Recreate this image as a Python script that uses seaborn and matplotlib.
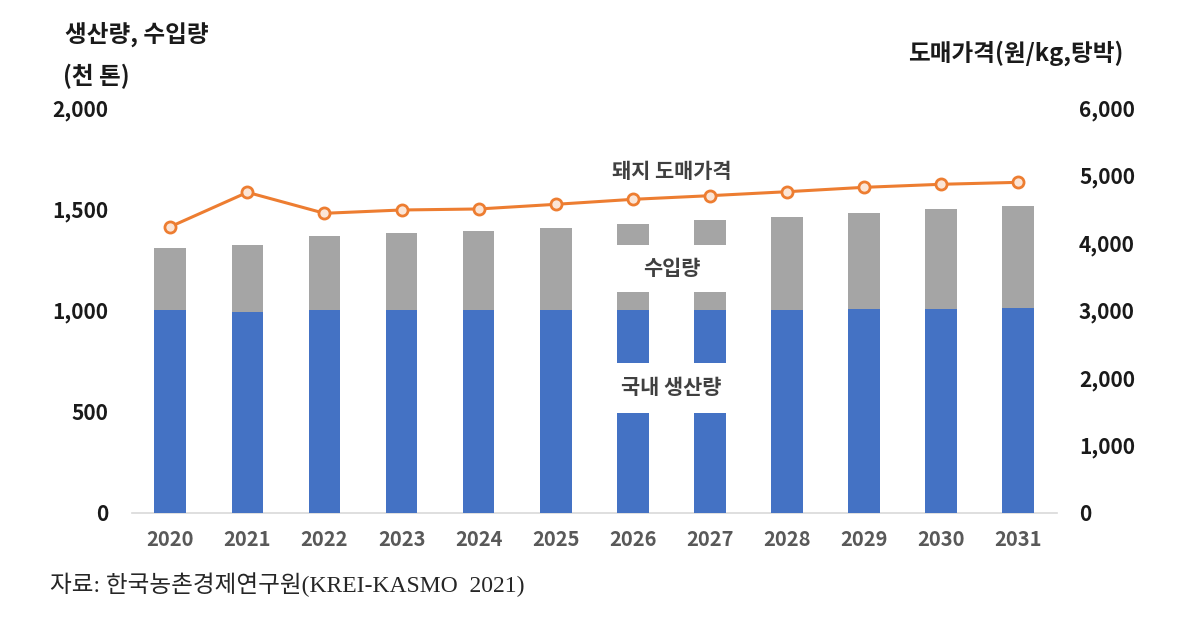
import numpy as np
import matplotlib
matplotlib.use('Agg')
import matplotlib.pyplot as plt
from matplotlib.patches import Rectangle
import seaborn as sns

# data
years = ['2020', '2021', '2022', '2023', '2024', '2025',
         '2026', '2027', '2028', '2029', '2030', '2031']
production = [1000, 993, 1000, 1000, 1000, 1001, 1002, 1004, 1003, 1005, 1008, 1010]
imports = [306, 331, 369, 383, 393, 404, 424, 442, 459, 474, 492, 507]
price = [4240, 4750, 4439, 4488, 4503, 4572, 4646, 4700, 4759, 4824, 4869, 4898]

left_ticks = [0, 500, 1000, 1500, 2000]
right_ticks = [0, 1000, 2000, 3000, 4000, 5000, 6000]

BLUE = '#4472C4'
GRAY = '#A5A5A5'
ORANGE = '#ED7D31'

sns.set_style('white')
plt.rcParams['font.family'] = ['Noto Sans CJK KR', 'DejaVu Sans']

totals = [p + i for p, i in zip(production, imports)]
pos = np.arange(len(years))

fig = plt.figure(figsize=(12, 6.24), dpi=100)
ax = fig.add_axes([0.1098, 0.1784, 0.7708, 0.6485])
ax2 = ax.twinx()

# stacked bars: total (gray) behind, production (blue) in front
sns.barplot(x=years, y=totals, color=GRAY, width=0.41, saturation=1,
            linewidth=0, ax=ax, zorder=2)
sns.barplot(x=years, y=production, color=BLUE, width=0.41, saturation=1,
            linewidth=0, ax=ax, zorder=3)

# white label backgrounds over 2026-2027 bars
ax.add_patch(Rectangle((5.6, 1090), 1.8, 233, facecolor='white', edgecolor='none', zorder=4))
ax.add_patch(Rectangle((5.6, 493), 1.8, 246, facecolor='white', edgecolor='none', zorder=4))
ax.text(6.5, 1205, '수입량', ha='center', va='center', fontsize=15,
        fontweight='bold', color='#404040', zorder=5)
ax.text(6.5, 620, '국내 생산량', ha='center', va='center', fontsize=15,
        fontweight='bold', color='#404040', zorder=5)

sns.lineplot(x=pos, y=price, color=ORANGE, linewidth=2.2, marker='o',
             markersize=8, markerfacecolor='#FBE5D6', markeredgecolor=ORANGE,
             markeredgewidth=2, ax=ax2)
ax2.text(6.5, 5060, '돼지 도매가격', ha='center', va='center', fontsize=15,
         fontweight='bold', color='#404040')

ax.set_xlim(-0.5, 11.5)
ax.set_ylim(0, 2000)
ax2.set_ylim(0, 6000)
ax.set_yticks(left_ticks)
ax.set_yticklabels([f'{v:,}' for v in left_ticks])
ax2.set_yticks(right_ticks)
ax2.set_yticklabels([f'{v:,}' for v in right_ticks])
ax.set_xlabel('')
ax.set_ylabel('')
ax2.set_ylabel('')

for a in (ax, ax2):
    for s in a.spines.values():
        s.set_visible(False)
    a.grid(False)
ax.spines['bottom'].set_visible(True)
ax.spines['bottom'].set_color('#D9D9D9')
ax.spines['bottom'].set_linewidth(1.2)

ax.tick_params(axis='x', length=0, pad=12, labelsize=14.5, labelcolor='#595959')
ax.tick_params(axis='y', length=0, pad=17, labelsize=15, labelcolor='#1a1a1a')
ax2.tick_params(axis='y', length=0, pad=16, labelsize=15, labelcolor='#1a1a1a')
for lab in ax.get_xticklabels() + ax.get_yticklabels() + ax2.get_yticklabels():
    lab.set_fontweight('bold')

# axis titles
fig.text(65 / 1200, 1 - 35 / 624, '생산량, 수입량', fontsize=17, fontweight='bold',
         color='#1a1a1a', va='center', ha='left')
fig.text(63 / 1200, 1 - 76 / 624, '(천 톤)', fontsize=17, fontweight='bold',
         color='#1a1a1a', va='center', ha='left')
fig.text(908 / 1200, 1 - 53 / 624, '도매가격(원/kg,탕박)', fontsize=17, fontweight='bold',
         color='#1a1a1a', va='center', ha='left')

# source note
fig.text(50 / 1200, 1 - 585 / 624, '자료: 한국농촌경제연구원(KREI-KASMO  2021)',
         fontsize=17, color='#262626', va='center', ha='left',
         family=['Liberation Serif', 'Noto Sans CJK KR'])

fig.savefig('out.png', dpi=100)
